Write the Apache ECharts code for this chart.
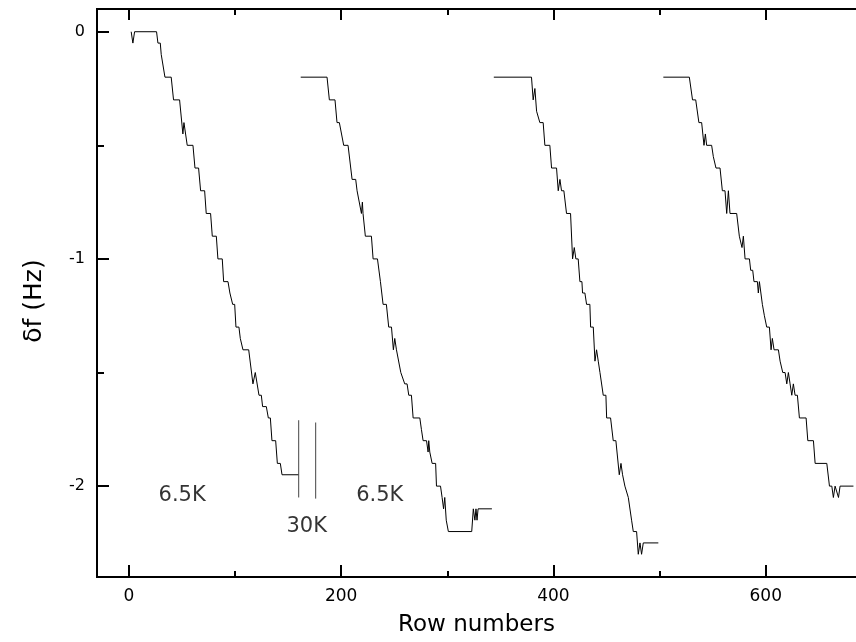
<!DOCTYPE html>
<html>
<head>
<meta charset="utf-8">
<script src="https://cdn.jsdelivr.net/npm/echarts@6/dist/echarts.min.js"></script>
<style>html,body{margin:0;padding:0;background:#fff}#c{width:856px;height:642px}</style>
</head>
<body>
<div id="c"></div>
<script>
// ---- data ----
const xMajorTicks = [0, 200, 400, 600];
const xMinorTicks = [100, 300, 500];
const yMajorTicks = [0, -1, -2];
const yMinorTicks = [-0.5, -1.5];

const trace1 = [[2.2,0],[3.8,-0.05],[5.4,0],[26.1,0],[27.4,-0.05],[29.6,-0.05],[30.5,-0.1],[31.3,-0.1],[34.0,-0.2],[39.9,-0.2],[42.1,-0.3],[47.8,-0.3],[50.9,-0.45],[51.9,-0.4],[55.0,-0.5],[60.4,-0.5],[62.3,-0.6],[65.7,-0.6],[67.6,-0.7],[71.4,-0.7],[72.9,-0.8],[77.0,-0.8],[78.6,-0.9],[82.4,-0.9],[83.9,-1.0],[88.0,-1.0],[89.3,-1.1],[93.4,-1.1],[95.2,-1.15],[96.5,-1.15],[97.8,-1.2],[99.7,-1.2],[100.9,-1.3],[103.7,-1.3],[105.0,-1.35],[105.9,-1.35],[107.5,-1.4],[112.9,-1.4],[116.9,-1.55],[119.1,-1.5],[122.6,-1.6],[124.8,-1.6],[126.0,-1.65],[129.5,-1.65],[131.4,-1.7],[133.3,-1.7],[134.8,-1.8],[138.3,-1.8],[139.9,-1.9],[142.7,-1.9],[144.3,-1.95],[160,-1.95]];

const trace2 = [[161.9,-0.2],[186.7,-0.2],[188.9,-0.3],[194.2,-0.3],[196.1,-0.4],[198.3,-0.4],[202.4,-0.5],[206.5,-0.5],[210.3,-0.65],[213.7,-0.65],[215.0,-0.7],[215.9,-0.7],[219.1,-0.8],[220.0,-0.75],[220.6,-0.8],[222.8,-0.9],[228.5,-0.9],[230.1,-1.0],[234.2,-1.0],[237.0,-1.1],[238.6,-1.1],[239.5,-1.2],[242.6,-1.2],[244.8,-1.3],[247.4,-1.3],[249.2,-1.4],[250.5,-1.35],[252.1,-1.4],[256.2,-1.5],[257.4,-1.5],[259.9,-1.55],[262.1,-1.55],[263.7,-1.6],[266.2,-1.6],[267.8,-1.7],[274.1,-1.7],[275.6,-1.75],[277.2,-1.8],[280.4,-1.8],[281.9,-1.85],[282.5,-1.8],[283.5,-1.85],[285.7,-1.9],[289.0,-1.9],[289.8,-2.0],[293.6,-2.0],[295.1,-2.05],[296.5,-2.1],[297.6,-2.05],[299.0,-2.15],[301.0,-2.2],[323.0,-2.2],[324.5,-2.1],[326.0,-2.15],[327.0,-2.1],[328.0,-2.15],[329.0,-2.1],[342.0,-2.1]];

const trace3 = [[343.8,-0.2],[379.3,-0.2],[380.9,-0.3],[382.5,-0.25],[384.1,-0.35],[385.6,-0.35],[387.2,-0.4],[390.3,-0.4],[391.9,-0.5],[396.6,-0.5],[398.2,-0.6],[402.9,-0.6],[404.5,-0.7],[406.1,-0.65],[407.6,-0.7],[409.8,-0.7],[412.3,-0.8],[416.1,-0.8],[418.0,-1.0],[419.6,-0.95],[421.1,-1.0],[423.3,-1.0],[424.9,-1.1],[426.8,-1.1],[427.4,-1.15],[429.6,-1.15],[431.2,-1.2],[434.3,-1.2],[435.0,-1.3],[437.5,-1.3],[439.1,-1.45],[440.6,-1.4],[442.2,-1.45],[443.8,-1.5],[446.9,-1.6],[449.4,-1.6],[450.1,-1.7],[453.8,-1.7],[456.3,-1.8],[458.8,-1.8],[462.0,-1.95],[463.6,-1.9],[465.1,-1.95],[467.3,-2.0],[468.9,-2.0],[470.5,-2.05],[473.6,-2.15],[475.2,-2.2],[478.3,-2.2],[479.9,-2.3],[481.5,-2.25],[483.0,-2.3],[484.6,-2.25],[498.8,-2.25]];

const trace4 = [[503.5,-0.2],[528.0,-0.2],[531.0,-0.3],[534.0,-0.3],[537.0,-0.4],[539.6,-0.4],[541.8,-0.5],[543.1,-0.45],[544.3,-0.5],[549.0,-0.5],[550.6,-0.55],[553.1,-0.6],[556.9,-0.6],[559.1,-0.7],[561.6,-0.7],[563.2,-0.8],[564.8,-0.7],[566.3,-0.8],[572.6,-0.8],[575.1,-0.9],[576.4,-0.9],[577.6,-0.95],[578.9,-0.9],[580.5,-1.0],[584.6,-1.0],[585.8,-1.05],[587.7,-1.05],[588.9,-1.1],[592.1,-1.1],[593.0,-1.15],[594.0,-1.1],[596.8,-1.2],[598.7,-1.25],[600.9,-1.3],[603.4,-1.3],[605.0,-1.4],[606.2,-1.35],[607.8,-1.4],[611.9,-1.4],[613.5,-1.45],[616.0,-1.5],[618.2,-1.5],[619.8,-1.55],[621.3,-1.5],[622.9,-1.55],[624.5,-1.6],[626.0,-1.55],[627.6,-1.6],[629.8,-1.6],[631.7,-1.7],[638.0,-1.7],[639.6,-1.8],[644.9,-1.8],[646.5,-1.9],[657.5,-1.9],[660.0,-2.0],[662.2,-2.0],[663.7,-2.05],[665.3,-2.0],[666.9,-2.0],[668.5,-2.05],[670.0,-2.0],[682.6,-2.0]];

const marker1 = [[160,-1.71],[160,-2.05]];
const marker2 = [[176,-1.72],[176,-2.055]];

const annotText = ['6.5K', '30K', '6.5K'];
const annotX = [50.2, 167.5, 236.4];
const annotY = [-2.04, -2.18, -2.043];

// ---- chart ----
const FONT = 'DejaVu Sans';
const chart = echarts.init(document.getElementById('c'), null, {renderer: 'canvas'});
const axisLineStyle = {color: '#000', width: 2};
function xAxisDef(position, ticks, len, labels) {
  return {
    type: 'value', min: -30, max: 685, position: position,
    axisLine: {show: true, onZero: false, lineStyle: axisLineStyle},
    axisTick: {show: true, inside: true, length: len, customValues: ticks, lineStyle: {color: '#000', width: 2}},
    axisLabel: labels ? {show: true, customValues: ticks, color: '#000', fontFamily: FONT, fontSize: 17, margin: 11} : {show: false},
    splitLine: {show: false}
  };
}
function yAxisDef(ticks, len, labels) {
  return {
    type: 'value', min: -2.4, max: 0.1, position: 'left',
    axisLine: {show: true, onZero: false, lineStyle: axisLineStyle},
    axisTick: {show: true, inside: true, length: len, customValues: ticks, lineStyle: {color: '#000', width: 2}},
    axisLabel: labels ? {show: true, customValues: ticks, color: '#000', fontFamily: FONT, fontSize: 16, margin: 12} : {show: false},
    splitLine: {show: false}
  };
}
const xb = xAxisDef('bottom', xMajorTicks, 12, true);
xb.name = 'Row numbers';
xb.nameLocation = 'middle';
xb.nameGap = 37;
xb.nameTextStyle = {color: '#000', fontFamily: FONT, fontSize: 23};
const yl = yAxisDef(yMajorTicks, 12, true);
yl.name = 'δf (Hz)';
yl.nameLocation = 'middle';
yl.nameGap = 50;
yl.nameTextStyle = {color: '#000', fontFamily: FONT, fontSize: 25, padding: [0, 16, 0, 0]};

function lineSeries(data, color) {
  return {type: 'line', data: data, showSymbol: false, symbol: 'none', xAxisIndex: 0, yAxisIndex: 0,
    lineStyle: {color: color, width: 1}, animation: false, silent: true};
}

chart.setOption({
  backgroundColor: '#fff',
  animation: false,
  grid: {left: 97, right: 0, top: 9, bottom: 62, containLabel: false},
  xAxis: [xb, xAxisDef('bottom', xMinorTicks, 6, false), xAxisDef('top', xMajorTicks, 11, false), xAxisDef('top', xMinorTicks, 6, false)],
  yAxis: [yl, yAxisDef(yMinorTicks, 7, false)],
  series: [
    lineSeries(trace1, '#000'),
    lineSeries(trace2, '#000'),
    lineSeries(trace3, '#000'),
    lineSeries(trace4, '#000'),
    lineSeries(marker1, '#444'),
    lineSeries(marker2, '#444'),
    {
      type: 'scatter', symbolSize: 0, silent: true, animation: false,
      data: annotText.map((t, i) => [annotX[i], annotY[i], t]),
      label: {show: true, position: 'inside', formatter: p => p.data[2], color: '#000', textBorderWidth: 0, fontFamily: FONT, fontSize: 21}
    }
  ]
});
</script>
</body>
</html>
